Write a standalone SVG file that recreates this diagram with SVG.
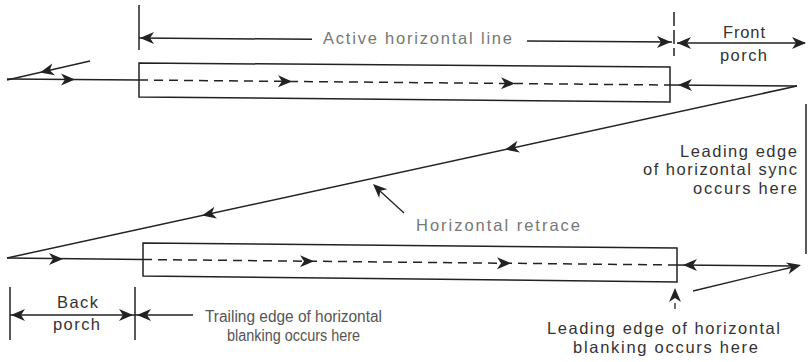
<svg xmlns="http://www.w3.org/2000/svg" xmlns:xlink="http://www.w3.org/1999/xlink" width="808" height="362" viewBox="0 0 808 362">
  <defs>
    <!-- barbed arrowhead, tip at origin, pointing along +x -->
    <path id="ah" d="M0,0 L-14,-6 L-10,0 L-14,6 Z" fill="#222"/>
  </defs>
  <style>
    .ln { stroke:#222; stroke-width:1.5; fill:none; }
    .thin { stroke:#222; stroke-width:1.3; fill:none; }
    .dash { stroke:#222; stroke-width:1.5; fill:none; stroke-dasharray:9 6; }
    .box { stroke:#222; stroke-width:1.5; fill:none; }
    .t { font-family:"Liberation Sans", Arial, sans-serif; font-size:16.5px; fill:#333; }
    .faded { fill:#777; }
    .half { fill:#555; font-size:16px; }
  </style>
  <rect width="808" height="362" fill="#fff"/>

  <!-- active line: top scan line and its box -->
  <g id="top-line">
    <path class="box" d="M139,63 L670,67 L670,102 L139,97 Z"/>
    <path class="ln" d="M7,79 L139,80"/>
    <path class="dash" d="M139,80 L670,85"/>
    <path class="ln" d="M670,85 L797,86"/>
    <use xlink:href="#ah" transform="translate(75,79.5)"/>
    <use xlink:href="#ah" transform="translate(292,81.4) rotate(0.54)"/>
    <use xlink:href="#ah" transform="translate(515,83.5) rotate(0.54)"/>
    <use xlink:href="#ah" transform="translate(678,85) rotate(180)"/>
    <!-- incoming retrace stub at far left -->
    <path class="thin" d="M90,61 L7,80"/>
    <use xlink:href="#ah" transform="translate(40,72.5) rotate(167)"/>
  </g>

  <!-- next scan line and its box -->
  <g id="bottom-line">
    <path class="box" d="M143,243 L677,248 L677,282 L143,276 Z"/>
    <path class="ln" d="M7,258 L143,259.5"/>
    <path class="dash" d="M143,259.5 L677,265"/>
    <path class="ln" d="M677,265 L797,266"/>
    <use xlink:href="#ah" transform="translate(63,259)"/>
    <use xlink:href="#ah" transform="translate(314,261.3) rotate(0.58)"/>
    <use xlink:href="#ah" transform="translate(511,263.3) rotate(0.58)"/>
    <use xlink:href="#ah" transform="translate(683,265) rotate(180)"/>
  </g>

  <g id="connectors">
    <!-- horizontal retrace -->
    <path class="ln" d="M797,86 L7,258"/>
    <use xlink:href="#ah" transform="translate(505,149.6) rotate(167.7)"/>
    <use xlink:href="#ah" transform="translate(202,215.5) rotate(167.7)"/>
    <!-- right-hand bracket line -->
    <path class="ln" d="M806,104 L806,254"/>
    <!-- retrace pointer -->
    <path class="thin" d="M404,213 L380,191"/>
    <use xlink:href="#ah" transform="translate(373,184) rotate(-137)"/>
    <!-- sync pointer, lower right -->
    <path class="thin" d="M693,291 L795,266.5"/>
    <use xlink:href="#ah" transform="translate(801,265) rotate(-13.5)"/>
    <!-- blanking pointer -->
    <use xlink:href="#ah" transform="translate(675,288) rotate(-90)"/>
    <path class="thin" d="M675,303 L675,309"/>
  </g>

  <!-- active line dimension -->
  <g id="active-dimension">
    <path class="ln" d="M139,5 L139,50"/>
    <path class="ln" d="M139,38 L312,39.3"/>
    <path class="ln" d="M527,40.9 L672,42"/>
    <use xlink:href="#ah" transform="translate(140,38) rotate(180)"/>
    <use xlink:href="#ah" transform="translate(671,42)"/>
    <text class="t faded" x="323" y="44" textLength="189" lengthAdjust="spacing">Active horizontal line</text>
  </g>

  <!-- front porch dimension -->
  <g id="front-porch">
    <path class="ln" d="M674,12 L674,56" stroke-dasharray="14 4"/>
    <path class="ln" d="M677,43 L805,43"/>
    <use xlink:href="#ah" transform="translate(677,43) rotate(180)"/>
    <use xlink:href="#ah" transform="translate(806,43)"/>
    <text class="t" x="723" y="38" textLength="42" lengthAdjust="spacing">Front</text>
    <text class="t" x="720" y="61" textLength="47" lengthAdjust="spacing">porch</text>
  </g>

  <g id="sync-label">
    <text class="t" x="680" y="157" textLength="117" lengthAdjust="spacing">Leading edge</text>
    <text class="t" x="643" y="175" textLength="154" lengthAdjust="spacing">of horizontal sync</text>
    <text class="t" x="693" y="194" textLength="104" lengthAdjust="spacing">occurs here</text>
  </g>

  <g id="retrace-label">
    <text class="t faded" x="416" y="231" textLength="164" lengthAdjust="spacing">Horizontal retrace</text>
  </g>

  <!-- back porch dimension -->
  <g id="back-porch">
    <path class="ln" d="M10,287 L10,340"/>
    <path class="ln" d="M135,287 L135,340"/>
    <path class="ln" d="M10,315 L193,315"/>
    <use xlink:href="#ah" transform="translate(11,315) rotate(180)"/>
    <use xlink:href="#ah" transform="translate(133,315)"/>
    <use xlink:href="#ah" transform="translate(137,315) rotate(180)"/>
    <text class="t" x="57" y="308" textLength="41" lengthAdjust="spacing">Back</text>
    <text class="t" x="53" y="330" textLength="47" lengthAdjust="spacing">porch</text>
  </g>

  <g id="trailing-label">
    <text class="t half" x="205" y="322" textLength="177" lengthAdjust="spacingAndGlyphs">Trailing edge of horizontal</text>
    <text class="t half" x="227" y="341" textLength="133" lengthAdjust="spacingAndGlyphs">blanking occurs here</text>
  </g>

  <g id="blanking-label">
    <text class="t" x="547" y="334" textLength="233" lengthAdjust="spacing">Leading edge of horizontal</text>
    <text class="t" x="573" y="353" textLength="185" lengthAdjust="spacing">blanking occurs here</text>
  </g>
</svg>
